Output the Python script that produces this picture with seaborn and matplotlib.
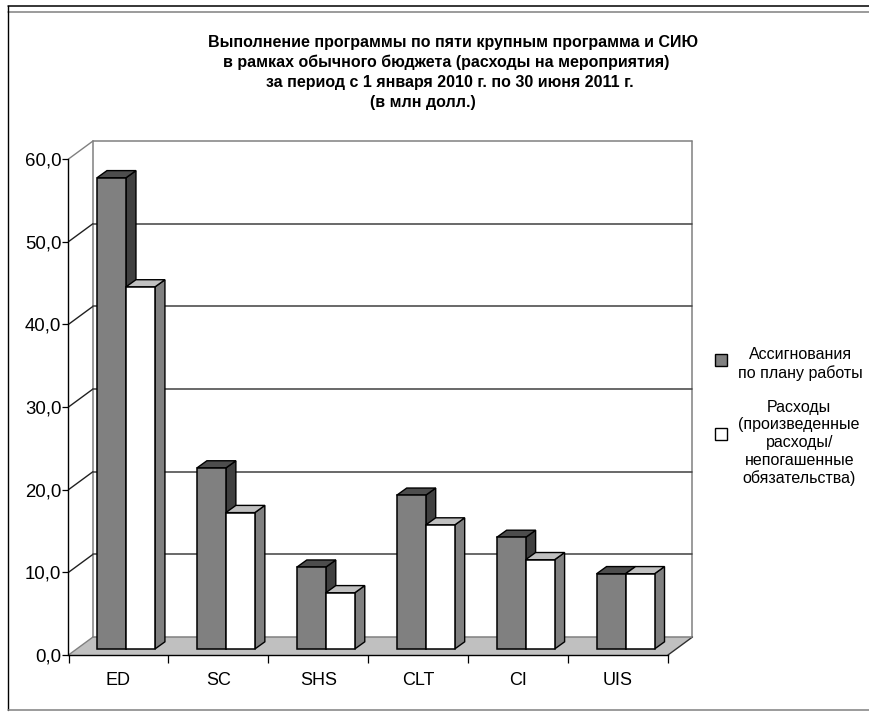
import matplotlib
matplotlib.use("Agg")
import matplotlib.pyplot as plt
from matplotlib.patches import Polygon, Patch, Rectangle
from matplotlib.legend_handler import HandlerPatch
from matplotlib.lines import Line2D
import pandas as pd
import seaborn as sns

categories = ["ED", "SC", "SHS", "CLT", "CI", "UIS"]
allotments = [57.0, 21.9, 9.9, 18.6, 13.5, 9.1]
expenses = [43.8, 16.5, 6.8, 15.0, 10.8, 9.1]
series_names = ["Ассигнования\nпо плану работы",
                "Расходы\n(произведенные\nрасходы/\nнепогашенные\nобязательства)"]
yticks = [0, 10, 20, 30, 40, 50, 60]
title_lines = ["Выполнение программы по пяти крупным программа и СИЮ",
               "в рамках обычного бюджета (расходы на мероприятия)",
               "за период с 1 января 2010 г. по 30 июня 2011 г.",
               "(в млн долл.)"]

W, H = 870, 713
sns.set_theme(style="white")
plt.rcParams["font.family"] = ["Liberation Sans", "DejaVu Sans"]
fig = plt.figure(figsize=(W / 100, H / 100), dpi=100)

left, right, top, bottom = 68.5, 668.0, 159.0, 655.0
ax = fig.add_axes([left / W, 1 - bottom / H, (right - left) / W, (bottom - top) / H])

df = pd.DataFrame({
    "cat": categories * 2,
    "val": allotments + expenses,
    "series": [series_names[0]] * len(categories) + [series_names[1]] * len(categories),
})
sns.barplot(data=df, x="cat", y="val", hue="series", hue_order=series_names,
            palette=["#808080", "#ffffff"], width=0.58, gap=0, dodge=True,
            saturation=1, edgecolor="black", linewidth=1.1, legend=False, ax=ax)
ax.set_xlim(-0.5, 5.5)
ax.set_ylim(0, 60)

px_x = (right - left) / 6
px_y = (bottom - top) / 60
wall_dx, wall_dy = 24.5 / px_x, 18 / px_y
bar_sx, bar_sy = 7.5 / px_x, 6 / px_y
bar_dx, bar_dy = 10 / px_x, 7.2 / px_y

# walls, floor and grid
xa, xb = ax.get_xlim()
ax.add_patch(Polygon([(xa, 0), (xa + wall_dx, wall_dy), (xb + wall_dx, wall_dy), (xb, 0)],
                     closed=True, fc="#c0c0c0", ec="none", zorder=0.5, clip_on=False))
wall_kw = dict(color="#808080", lw=1.1, zorder=0.7, clip_on=False)
ax.plot([xa + wall_dx] * 2, [wall_dy, 60 + wall_dy], **wall_kw)
ax.plot([xb + wall_dx] * 2, [wall_dy, 60 + wall_dy], **wall_kw)
ax.plot([xb, xb + wall_dx], [0, wall_dy], color="#303030", lw=1.0, zorder=0.7, clip_on=False)
for v in yticks:
    edge = "#808080" if v in (0, 60) else "#202020"
    back = "#808080" if v in (0, 60) else "#404040"
    ax.plot([xa, xa + wall_dx], [v, v + wall_dy], color=edge, lw=1.0, zorder=0.8, clip_on=False)
    ax.plot([xa + wall_dx, xb + wall_dx], [v + wall_dy] * 2, color=back, lw=1.1, zorder=0.8, clip_on=False)

# 3D faces from bar geometry
face_cols = [("#404040", "#4d4d4d"), ("#808080", "#c0c0c0")]
for i, cont in enumerate(ax.containers):
    side_c, top_c = face_cols[i]
    z = 3 + i * 2
    for bar in cont.patches:
        bar.set_x(bar.get_x() + bar_sx)
        bar.set_y(bar_sy)
        bar.set_zorder(z + 1)
        bar.set_clip_on(False)
        x0, x1 = bar.get_x(), bar.get_x() + bar.get_width()
        y0, y1 = bar.get_y(), bar.get_y() + bar.get_height()
        ax.add_patch(Polygon([(x1, y0), (x1 + bar_dx, y0 + bar_dy), (x1 + bar_dx, y1 + bar_dy), (x1, y1)],
                             closed=True, fc=side_c, ec="black", lw=1.0, zorder=z, clip_on=False))
        ax.add_patch(Polygon([(x0, y1), (x0 + bar_dx, y1 + bar_dy), (x1 + bar_dx, y1 + bar_dy), (x1, y1)],
                             closed=True, fc=top_c, ec="black", lw=1.0, zorder=z, clip_on=False))

# axes
for s in ("top", "right"):
    ax.spines[s].set_visible(False)
for s in ("left", "bottom"):
    ax.spines[s].set_color("black")
    ax.spines[s].set_linewidth(1.0)
    ax.spines[s].set_zorder(10)
ax.patch.set_visible(False)
ax.set_xlabel("")
ax.set_ylabel("")
ax.set_yticks(yticks)
ax.set_yticklabels([f"{v:.1f}".replace(".", ",") for v in yticks], fontsize=13.4, color="black")
ax.tick_params(axis="y", which="major", left=True, length=4.6, width=0.9, color="black", pad=0.5)
ax.set_xticks(range(len(categories)))
ax.set_xticklabels(categories, fontsize=13, color="black")
ax.tick_params(axis="x", which="major", bottom=False, length=0, pad=12.5)
ax.set_xticks([i - 0.5 for i in range(len(categories) + 1)], minor=True)
ax.tick_params(axis="x", which="minor", bottom=True, length=5.4, width=0.9, color="black")

# title
title_x = [453, 446, 450, 422.5]
title_y = [42, 62, 82, 102]
for txt, x, y in zip(title_lines, title_x, title_y):
    fig.text(x / W, 1 - y / H, txt, ha="center", va="center", fontsize=11.55,
             fontweight="bold", color="black")

# legend
offsets = [2.9, 6.6]
def make_patch(legend, orig_handle, xdescent, ydescent, width, height, fontsize):
    idx = handles.index(orig_handle)
    return Rectangle((0, offsets[idx]), 8.3, 8.3)
handles = [Patch(fc="#808080", ec="black", lw=1.0), Patch(fc="white", ec="black", lw=1.0)]
leg = ax.legend(handles, series_names, loc="upper left",
                bbox_to_anchor=(715 / W, 1 - 347 / H), bbox_transform=fig.transFigure,
                frameon=False, fontsize=11.5, borderpad=0, borderaxespad=0,
                handlelength=1.0, handletextpad=0.47, labelspacing=1.2,
                handler_map={h: HandlerPatch(patch_func=make_patch) for h in handles})
for t in leg.get_texts():
    t.set_multialignment("center")
    t.set_linespacing(1.22)
    t.set_color("black")
leg.set_zorder(20)

# outer frame
for xs, ys, c, lw in [((8, 870), (6, 6), "black", 1.1), ((8, 870), (12, 12), "#808080", 1.1),
                      ((8, 8), (6, 710), "black", 1.0), ((8, 870), (710, 710), "#808080", 1.1)]:
    fig.add_artist(Line2D([x / W for x in xs], [1 - y / H for y in ys], color=c, lw=lw))

fig.savefig("out.png", dpi=100)
